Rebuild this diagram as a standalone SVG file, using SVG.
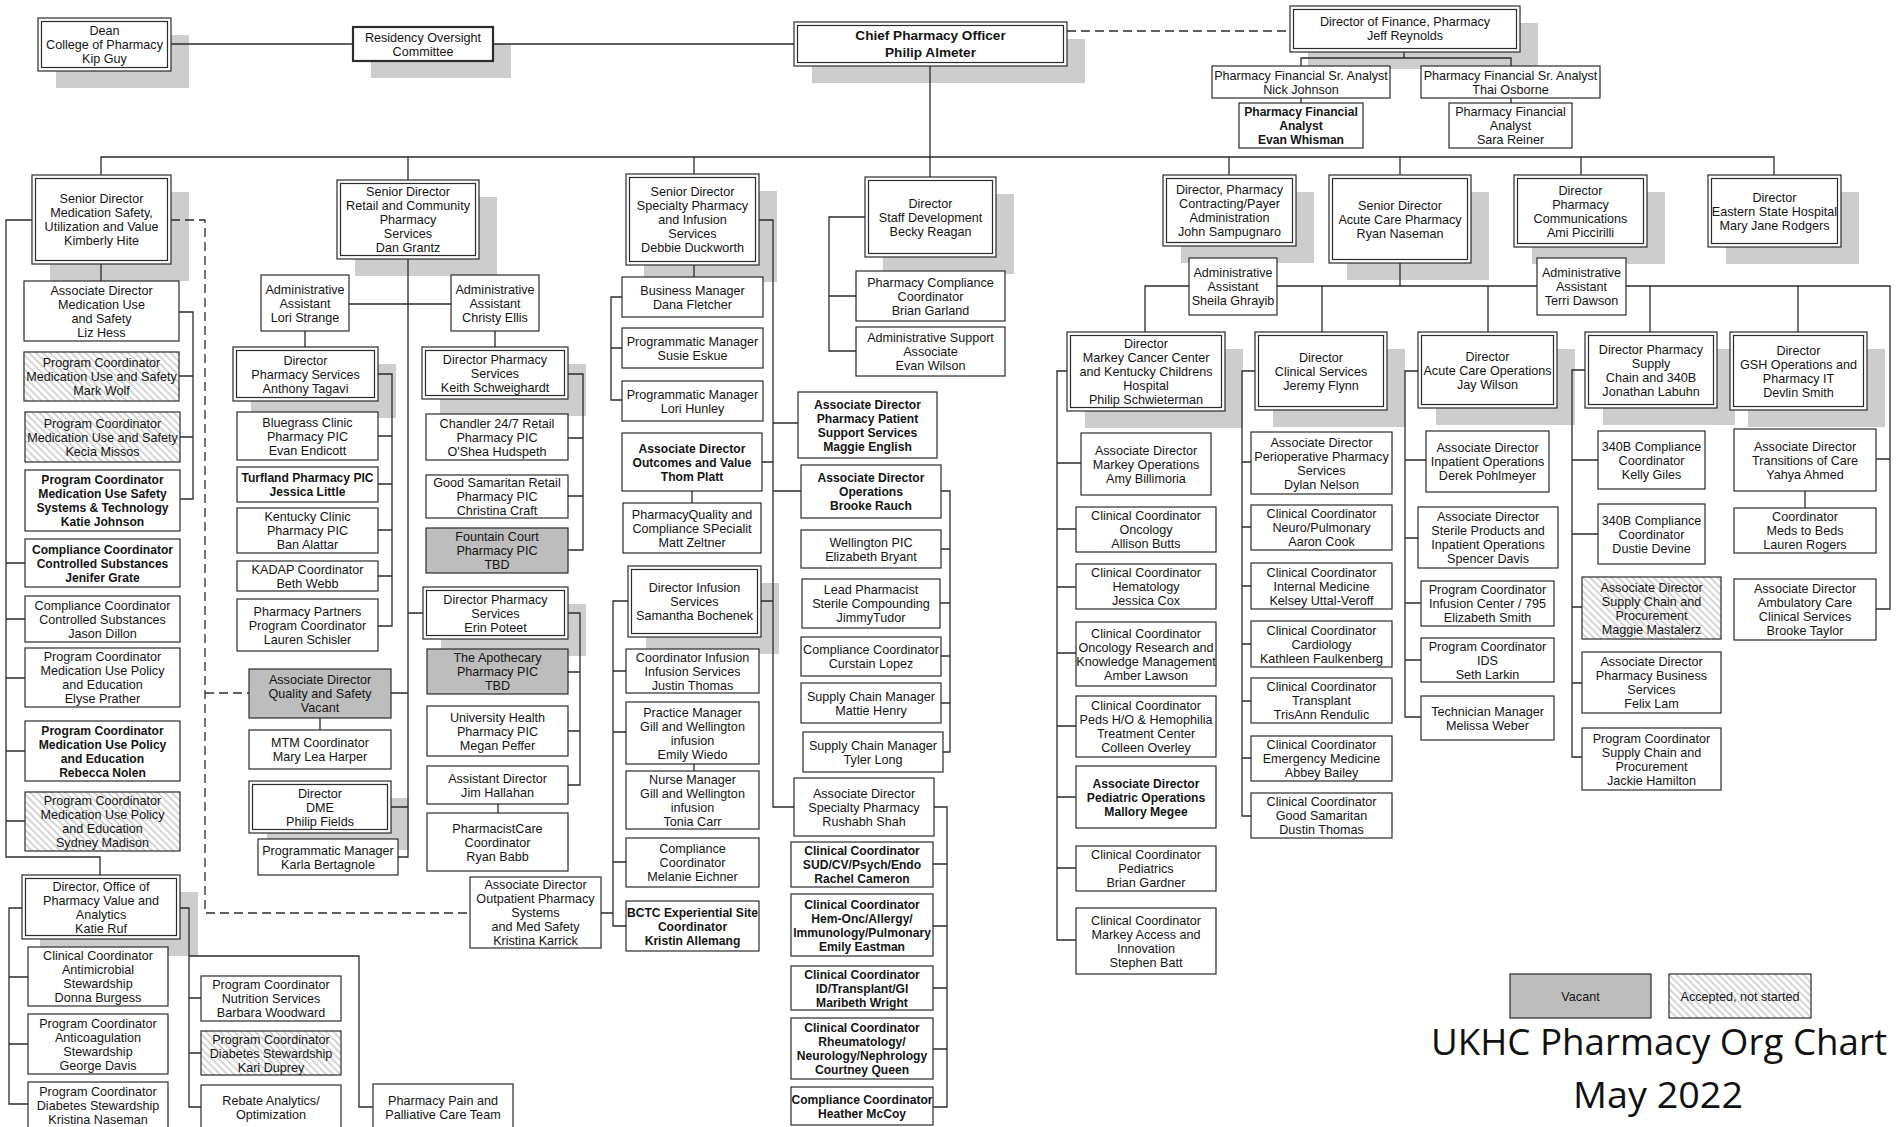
<svg xmlns="http://www.w3.org/2000/svg" width="1898" height="1127" viewBox="0 0 1898 1127">
<style>
.b{fill:#fff;stroke:#2b2b2b;stroke-width:1.2}
.g{fill:#bdbdbd}
.h{fill:url(#hatch)}
.s{fill:#cdcdcd}
.thick{stroke-width:2.2}
.c{fill:none;stroke:#2b2b2b;stroke-width:1.3}
.d{stroke-dasharray:9 5}
text{font-family:"Liberation Sans",Arial,sans-serif;font-size:12.6px;fill:#141414;text-anchor:middle}
.bd{font-weight:bold;font-size:12.1px}
.ti{font-family:"Open Sans","Noto Sans",sans-serif;font-size:36px;fill:#111}
</style>
<defs>
<pattern id="hatch" width="5" height="5" patternUnits="userSpaceOnUse" patternTransform="rotate(-45)">
<rect width="5" height="5" fill="#fff"/>
<line x1="1" y1="0" x2="1" y2="5" stroke="#c4c4c4" stroke-width="1.4"/>
</pattern>
</defs>
<rect width="1898" height="1127" fill="#fff"/>
<g id="shadows" class="s">
<rect x="56" y="35" width="133" height="53"/>
<rect x="371" y="44" width="140" height="34"/>
<rect x="812" y="39" width="273" height="44"/>
<rect x="1308" y="23" width="230" height="46"/>
<rect x="50" y="192" width="139" height="89"/>
<rect x="355" y="197" width="142" height="79"/>
<rect x="644" y="191" width="133" height="91"/>
<rect x="883" y="194" width="131" height="80"/>
<rect x="1181" y="192" width="133" height="71"/>
<rect x="1347" y="192" width="142" height="88"/>
<rect x="1532" y="192" width="133" height="72"/>
<rect x="1726" y="192" width="133" height="72"/>
<rect x="40" y="892" width="158" height="64"/>
<rect x="251" y="364" width="145" height="54"/>
<rect x="267" y="798" width="142" height="52"/>
<rect x="440" y="364" width="146" height="52"/>
<rect x="441" y="604" width="145" height="52"/>
<rect x="646" y="583" width="133" height="71"/>
<rect x="1085" y="349" width="158" height="79"/>
<rect x="1273" y="349" width="132" height="78"/>
<rect x="1436" y="349" width="139" height="76"/>
<rect x="1603" y="349" width="132" height="76"/>
<rect x="1748" y="349" width="137" height="78"/>
</g>
<g id="connectors" class="c">
<path d="M171 44H353M493 44H794"/>
<path class="d" d="M1067 31H1290"/>
<path d="M1404 52V58M1301 66V58H1511V66M1301 98V103M1511 98V103"/>
<path d="M930 66V177M101 175V157H1774V175M408 157V180M694 157V174M1229 157V175M1400 157V175M1581 157V175"/>
<path d="M101 264V281M179 312H193V499H180M179 376H193M180 437H193"/>
<path d="M32 220H6V857H100V875M6 563H25M6 619H25M6 678H25M6 751H25M6 821H25"/>
<path class="d" d="M171 220H205V913H470M205 693H249"/>
<path d="M22 908H9V1104H28M9 977H28M9 1044H28"/>
<path d="M180 908H189V1107H201M189 998H201M189 1053H201M189 956H359V1107H373"/>
<path d="M408 259V857H398M349 304H451M408 613H423M391 693H408M391 807H408M305 331V347M495 331V347"/>
<path d="M378 374H392V626H378M378 436H392M378 484H392M378 530H392M378 576H392M320 718V730"/>
<path d="M568 374H583V550H568M568 438H583M568 496H583M568 613H580V785H568M568 672H580M568 731H580M498 804V813M601 913H613"/>
<path d="M694 265V277M622 297H611V400H622M611 348H622"/>
<path d="M759 220H773V807H794M762 462H773M761 601H773M773 423H798M773 491H801M692 491V503"/>
<path d="M628 601H613V926H626M613 671H626M613 732H626M613 862H626M694 764V771"/>
<path d="M941 491H950V752H943M941 549H950M940 603H950M941 656H950M941 703H950"/>
<path d="M934 807H947V1107H933M933 864H947M933 926H947M933 988H947M933 1049H947"/>
<path d="M865 217H829V351H856M829 296H856"/>
<path d="M1400 263V286M1145 332V286H1890V609H1876M1322 286V332M1488 286V332M1650 286V332M1798 286V332M1890 459H1876M1805 491V508"/>
<path d="M1067 371H1057V940H1076M1057 463H1081M1057 529H1076M1057 587H1076M1057 653H1076M1057 726H1076M1057 797H1076M1057 868H1076"/>
<path d="M1255 371H1242V816H1251M1242 462H1251M1242 527H1251M1242 586H1251M1242 644H1251M1242 701H1251M1242 758H1251"/>
<path d="M1418 371H1405V717H1421M1405 460H1426M1405 538H1418M1405 603H1421M1405 660H1421"/>
<path d="M1585 370H1572V757H1582M1572 460H1598M1572 534H1598M1572 607H1582M1572 683H1582"/>
</g>

<g id="n-dean"><rect class="b" x="38" y="18" width="133" height="53"/><rect class="b" x="41.5" y="21.5" width="126" height="46"/><text x="104.5" y="35"><tspan x="104.5">Dean</tspan><tspan x="104.5" dy="14">College of Pharmacy</tspan><tspan x="104.5" dy="14">Kip Guy</tspan></text></g>
<g id="n-residency"><rect class="b thick" x="353" y="27" width="140" height="34"/><text x="423" y="41.5"><tspan x="423">Residency Oversight</tspan><tspan x="423" dy="14">Committee</tspan></text></g>
<g id="n-chief"><rect class="b" x="794" y="22" width="273" height="44"/><rect class="b" x="797.5" y="25.5" width="266" height="37"/><text style="font-weight:bold;font-size:13.6px" x="930.5" y="40"><tspan x="930.5">Chief Pharmacy Officer</tspan><tspan x="930.5" dy="17">Philip Almeter</tspan></text></g>
<g id="n-finance"><rect class="b" x="1290" y="6" width="230" height="46"/><rect class="b" x="1293.5" y="9.5" width="223" height="39"/><text x="1405" y="26"><tspan x="1405">Director of Finance, Pharmacy</tspan><tspan x="1405" dy="14">Jeff Reynolds</tspan></text></g>
<g id="n-nick"><rect class="b" x="1212" y="66" width="178" height="32"/><text x="1301" y="79.5"><tspan x="1301">Pharmacy Financial Sr. Analyst</tspan><tspan x="1301" dy="14">Nick Johnson</tspan></text></g>
<g id="n-thai"><rect class="b" x="1421" y="66" width="179" height="32"/><text x="1510.5" y="79.5"><tspan x="1510.5">Pharmacy Financial Sr. Analyst</tspan><tspan x="1510.5" dy="14">Thai Osborne</tspan></text></g>
<g id="n-whisman"><rect class="b" x="1239" y="103" width="124" height="45"/><text class="bd" x="1301" y="116"><tspan x="1301">Pharmacy Financial</tspan><tspan x="1301" dy="14">Analyst</tspan><tspan x="1301" dy="14">Evan Whisman</tspan></text></g>
<g id="n-reiner"><rect class="b" x="1449" y="103" width="123" height="45"/><text x="1510.5" y="116"><tspan x="1510.5">Pharmacy Financial</tspan><tspan x="1510.5" dy="14">Analyst</tspan><tspan x="1510.5" dy="14">Sara Reiner</tspan></text></g>

<g id="n-hite"><rect class="b" x="32" y="175" width="139" height="89"/><rect class="b" x="35.5" y="178.5" width="132" height="82"/><text x="101.5" y="203"><tspan x="101.5">Senior Director</tspan><tspan x="101.5" dy="14">Medication Safety,</tspan><tspan x="101.5" dy="14">Utilization and Value</tspan><tspan x="101.5" dy="14">Kimberly Hite</tspan></text></g>
<g id="n-grantz"><rect class="b" x="337" y="180" width="142" height="79"/><rect class="b" x="340.5" y="183.5" width="135" height="72"/><text x="408" y="196"><tspan x="408">Senior Director</tspan><tspan x="408" dy="14">Retail and Community</tspan><tspan x="408" dy="14">Pharmacy</tspan><tspan x="408" dy="14">Services</tspan><tspan x="408" dy="14">Dan Grantz</tspan></text></g>
<g id="n-duckworth"><rect class="b" x="626" y="174" width="133" height="91"/><rect class="b" x="629.5" y="177.5" width="126" height="84"/><text x="692.5" y="196"><tspan x="692.5">Senior Director</tspan><tspan x="692.5" dy="14">Specialty Pharmacy</tspan><tspan x="692.5" dy="14">and Infusion</tspan><tspan x="692.5" dy="14">Services</tspan><tspan x="692.5" dy="14">Debbie Duckworth</tspan></text></g>
<g id="n-reagan"><rect class="b" x="865" y="177" width="131" height="80"/><rect class="b" x="868.5" y="180.5" width="124" height="73"/><text x="930.5" y="207.5"><tspan x="930.5">Director</tspan><tspan x="930.5" dy="14">Staff Development</tspan><tspan x="930.5" dy="14">Becky Reagan</tspan></text></g>
<g id="n-sampugnaro"><rect class="b" x="1163" y="175" width="133" height="71"/><rect class="b" x="1166.5" y="178.5" width="126" height="64"/><text x="1229.5" y="194"><tspan x="1229.5">Director, Pharmacy</tspan><tspan x="1229.5" dy="14">Contracting/Payer</tspan><tspan x="1229.5" dy="14">Administration</tspan><tspan x="1229.5" dy="14">John Sampugnaro</tspan></text></g>
<g id="n-naseman"><rect class="b" x="1329" y="175" width="142" height="88"/><rect class="b" x="1332.5" y="178.5" width="135" height="81"/><text x="1400" y="209.5"><tspan x="1400">Senior Director</tspan><tspan x="1400" dy="14">Acute Care Pharmacy</tspan><tspan x="1400" dy="14">Ryan Naseman</tspan></text></g>
<g id="n-piccirilli"><rect class="b" x="1514" y="175" width="133" height="72"/><rect class="b" x="1517.5" y="178.5" width="126" height="65"/><text x="1580.5" y="194.5"><tspan x="1580.5">Director</tspan><tspan x="1580.5" dy="14">Pharmacy</tspan><tspan x="1580.5" dy="14">Communications</tspan><tspan x="1580.5" dy="14">Ami Piccirilli</tspan></text></g>
<g id="n-rodgers"><rect class="b" x="1708" y="175" width="133" height="72"/><rect class="b" x="1711.5" y="178.5" width="126" height="65"/><text x="1774.5" y="201.5"><tspan x="1774.5">Director</tspan><tspan x="1774.5" dy="14">Eastern State Hospital</tspan><tspan x="1774.5" dy="14">Mary Jane Rodgers</tspan></text></g>

<g id="n-hess"><rect class="b" x="24" y="281" width="155" height="60"/><text x="101.5" y="294.5"><tspan x="101.5">Associate Director</tspan><tspan x="101.5" dy="14">Medication Use</tspan><tspan x="101.5" dy="14">and Safety</tspan><tspan x="101.5" dy="14">Liz Hess</tspan></text></g>
<g id="n-wolf"><rect class="b h" x="24" y="352" width="155" height="49"/><text x="101.5" y="367"><tspan x="101.5">Program Coordinator</tspan><tspan x="101.5" dy="14">Medication Use and Safety</tspan><tspan x="101.5" dy="14">Mark Wolf</tspan></text></g>
<g id="n-missos"><rect class="b h" x="25" y="412" width="155" height="50"/><text x="102.5" y="427.5"><tspan x="102.5">Program Coordinator</tspan><tspan x="102.5" dy="14">Medication Use and Safety</tspan><tspan x="102.5" dy="14">Kecia Missos</tspan></text></g>
<g id="n-kjohnson"><rect class="b" x="25" y="470" width="155" height="61"/><text class="bd" x="102.5" y="484"><tspan x="102.5">Program Coordinator</tspan><tspan x="102.5" dy="14">Medication Use Safety</tspan><tspan x="102.5" dy="14">Systems &amp; Technology</tspan><tspan x="102.5" dy="14">Katie Johnson</tspan></text></g>
<g id="n-grate"><rect class="b" x="25" y="539" width="155" height="48"/><text class="bd" x="102.5" y="553.5"><tspan x="102.5">Compliance Coordinator</tspan><tspan x="102.5" dy="14">Controlled Substances</tspan><tspan x="102.5" dy="14">Jenifer Grate</tspan></text></g>
<g id="n-dillon"><rect class="b" x="25" y="596" width="155" height="46"/><text x="102.5" y="609.5"><tspan x="102.5">Compliance Coordinator</tspan><tspan x="102.5" dy="14">Controlled Substances</tspan><tspan x="102.5" dy="14">Jason Dillon</tspan></text></g>
<g id="n-prather"><rect class="b" x="25" y="648" width="155" height="59"/><text x="102.5" y="661"><tspan x="102.5">Program Coordinator</tspan><tspan x="102.5" dy="14">Medication Use Policy</tspan><tspan x="102.5" dy="14">and Education</tspan><tspan x="102.5" dy="14">Elyse Prather</tspan></text></g>
<g id="n-nolen"><rect class="b" x="25" y="721" width="155" height="60"/><text class="bd" x="102.5" y="734.5"><tspan x="102.5">Program Coordinator</tspan><tspan x="102.5" dy="14">Medication Use Policy</tspan><tspan x="102.5" dy="14">and Education</tspan><tspan x="102.5" dy="14">Rebecca Nolen</tspan></text></g>
<g id="n-madison"><rect class="b h" x="25" y="792" width="155" height="59"/><text x="102.5" y="805"><tspan x="102.5">Program Coordinator</tspan><tspan x="102.5" dy="14">Medication Use Policy</tspan><tspan x="102.5" dy="14">and Education</tspan><tspan x="102.5" dy="14">Sydney Madison</tspan></text></g>
<g id="n-ruf"><rect class="b" x="22" y="875" width="158" height="64"/><rect class="b" x="25.5" y="878.5" width="151" height="57"/><text x="101" y="890.5"><tspan x="101">Director, Office of</tspan><tspan x="101" dy="14">Pharmacy Value and</tspan><tspan x="101" dy="14">Analytics</tspan><tspan x="101" dy="14">Katie Ruf</tspan></text></g>
<g id="n-burgess"><rect class="b" x="28" y="947" width="140" height="59"/><text x="98" y="960"><tspan x="98">Clinical Coordinator</tspan><tspan x="98" dy="14">Antimicrobial</tspan><tspan x="98" dy="14">Stewardship</tspan><tspan x="98" dy="14">Donna Burgess</tspan></text></g>
<g id="n-gdavis"><rect class="b" x="28" y="1014" width="140" height="60"/><text x="98" y="1027.5"><tspan x="98">Program Coordinator</tspan><tspan x="98" dy="14">Anticoagulation</tspan><tspan x="98" dy="14">Stewardship</tspan><tspan x="98" dy="14">George Davis</tspan></text></g>
<g id="n-knaseman"><rect class="b" x="28" y="1082" width="140" height="46"/><text x="98" y="1095.5"><tspan x="98">Program Coordinator</tspan><tspan x="98" dy="14">Diabetes Stewardship</tspan><tspan x="98" dy="14">Kristina Naseman</tspan></text></g>
<g id="n-woodward"><rect class="b" x="201" y="976" width="140" height="45"/><text x="271" y="989"><tspan x="271">Program Coordinator</tspan><tspan x="271" dy="14">Nutrition Services</tspan><tspan x="271" dy="14">Barbara Woodward</tspan></text></g>
<g id="n-duprey"><rect class="b h" x="201" y="1031" width="140" height="44"/><text x="271" y="1043.5"><tspan x="271">Program Coordinator</tspan><tspan x="271" dy="14">Diabetes Stewardship</tspan><tspan x="271" dy="14">Kari Duprey</tspan></text></g>
<g id="n-rebate"><rect class="b" x="201" y="1085" width="140" height="46"/><text x="271" y="1104.5"><tspan x="271">Rebate Analytics/</tspan><tspan x="271" dy="14">Optimization</tspan></text></g>
<g id="n-pain"><rect class="b" x="373" y="1084" width="140" height="47"/><text x="443" y="1104.5"><tspan x="443">Pharmacy Pain and</tspan><tspan x="443" dy="14">Palliative Care Team</tspan></text></g>

<g id="n-strange"><rect class="b" x="261" y="275" width="88" height="56"/><text x="305" y="293.5"><tspan x="305">Administrative</tspan><tspan x="305" dy="14">Assistant</tspan><tspan x="305" dy="14">Lori Strange</tspan></text></g>
<g id="n-ellis"><rect class="b" x="451" y="275" width="88" height="56"/><text x="495" y="293.5"><tspan x="495">Administrative</tspan><tspan x="495" dy="14">Assistant</tspan><tspan x="495" dy="14">Christy Ellis</tspan></text></g>
<g id="n-tagavi"><rect class="b" x="233" y="347" width="145" height="54"/><rect class="b" x="236.5" y="350.5" width="138" height="47"/><text x="305.5" y="364.5"><tspan x="305.5">Director</tspan><tspan x="305.5" dy="14">Pharmacy Services</tspan><tspan x="305.5" dy="14">Anthony Tagavi</tspan></text></g>
<g id="n-endicott"><rect class="b" x="237" y="412" width="141" height="48"/><text x="307.5" y="426.5"><tspan x="307.5">Bluegrass Clinic</tspan><tspan x="307.5" dy="14">Pharmacy PIC</tspan><tspan x="307.5" dy="14">Evan Endicott</tspan></text></g>
<g id="n-little"><rect class="b" x="237" y="467" width="141" height="35"/><text class="bd" x="307.5" y="482"><tspan x="307.5">Turfland Pharmacy PIC</tspan><tspan x="307.5" dy="14">Jessica Little</tspan></text></g>
<g id="n-alattar"><rect class="b" x="237" y="508" width="141" height="45"/><text x="307.5" y="521"><tspan x="307.5">Kentucky Clinic</tspan><tspan x="307.5" dy="14">Pharmacy PIC</tspan><tspan x="307.5" dy="14">Ban Alattar</tspan></text></g>
<g id="n-webb"><rect class="b" x="237" y="561" width="141" height="30"/><text x="307.5" y="573.5"><tspan x="307.5">KADAP Coordinator</tspan><tspan x="307.5" dy="14">Beth Webb</tspan></text></g>
<g id="n-schisler"><rect class="b" x="237" y="599" width="141" height="52"/><text x="307.5" y="615.5"><tspan x="307.5">Pharmacy Partners</tspan><tspan x="307.5" dy="14">Program Coordinator</tspan><tspan x="307.5" dy="14">Lauren Schisler</tspan></text></g>
<g id="n-quality"><rect class="b g" x="249" y="669" width="142" height="49"/><text x="320" y="684"><tspan x="320">Associate Director</tspan><tspan x="320" dy="14">Quality and Safety</tspan><tspan x="320" dy="14">Vacant</tspan></text></g>
<g id="n-harper"><rect class="b" x="249" y="730" width="142" height="39"/><text x="320" y="747"><tspan x="320">MTM Coordinator</tspan><tspan x="320" dy="14">Mary Lea Harper</tspan></text></g>
<g id="n-fields"><rect class="b" x="249" y="781" width="142" height="52"/><rect class="b" x="252.5" y="784.5" width="135" height="45"/><text x="320" y="797.5"><tspan x="320">Director</tspan><tspan x="320" dy="14">DME</tspan><tspan x="320" dy="14">Philip Fields</tspan></text></g>
<g id="n-bertagnole"><rect class="b" x="258" y="839" width="140" height="36"/><text x="328" y="854.5"><tspan x="328">Programmatic Manager</tspan><tspan x="328" dy="14">Karla Bertagnole</tspan></text></g>
<g id="n-schweighardt"><rect class="b" x="422" y="347" width="146" height="52"/><rect class="b" x="425.5" y="350.5" width="139" height="45"/><text x="495" y="363.5"><tspan x="495">Director Pharmacy</tspan><tspan x="495" dy="14">Services</tspan><tspan x="495" dy="14">Keith Schweighardt</tspan></text></g>
<g id="n-hudspeth"><rect class="b" x="426" y="414" width="142" height="46"/><text x="497" y="427.5"><tspan x="497">Chandler 24/7 Retail</tspan><tspan x="497" dy="14">Pharmacy PIC</tspan><tspan x="497" dy="14">O'Shea Hudspeth</tspan></text></g>
<g id="n-craft"><rect class="b" x="426" y="475" width="142" height="43"/><text x="497" y="487"><tspan x="497">Good Samaritan Retail</tspan><tspan x="497" dy="14">Pharmacy PIC</tspan><tspan x="497" dy="14">Christina Craft</tspan></text></g>
<g id="n-fountain"><rect class="b g" x="426" y="528" width="142" height="45"/><text x="497" y="541"><tspan x="497">Fountain Court</tspan><tspan x="497" dy="14">Pharmacy PIC</tspan><tspan x="497" dy="14">TBD</tspan></text></g>
<g id="n-poteet"><rect class="b" x="423" y="587" width="145" height="52"/><rect class="b" x="426.5" y="590.5" width="138" height="45"/><text x="495.5" y="603.5"><tspan x="495.5">Director Pharmacy</tspan><tspan x="495.5" dy="14">Services</tspan><tspan x="495.5" dy="14">Erin Poteet</tspan></text></g>
<g id="n-apothecary"><rect class="b g" x="427" y="649" width="141" height="45"/><text x="497.5" y="662"><tspan x="497.5">The Apothecary</tspan><tspan x="497.5" dy="14">Pharmacy PIC</tspan><tspan x="497.5" dy="14">TBD</tspan></text></g>
<g id="n-peffer"><rect class="b" x="427" y="706" width="141" height="50"/><text x="497.5" y="721.5"><tspan x="497.5">University Health</tspan><tspan x="497.5" dy="14">Pharmacy PIC</tspan><tspan x="497.5" dy="14">Megan Peffer</tspan></text></g>
<g id="n-hallahan"><rect class="b" x="427" y="766" width="141" height="38"/><text x="497.5" y="782.5"><tspan x="497.5">Assistant Director</tspan><tspan x="497.5" dy="14">Jim Hallahan</tspan></text></g>
<g id="n-babb"><rect class="b" x="427" y="813" width="141" height="58"/><text x="497.5" y="832.5"><tspan x="497.5">PharmacistCare</tspan><tspan x="497.5" dy="14">Coordinator</tspan><tspan x="497.5" dy="14">Ryan Babb</tspan></text></g>
<g id="n-karrick"><rect class="b" x="470" y="877" width="131" height="71"/><text x="535.5" y="889"><tspan x="535.5">Associate Director</tspan><tspan x="535.5" dy="14">Outpatient Pharmacy</tspan><tspan x="535.5" dy="14">Systems</tspan><tspan x="535.5" dy="14">and Med Safety</tspan><tspan x="535.5" dy="14">Kristina Karrick</tspan></text></g>

<g id="n-fletcher"><rect class="b" x="622" y="277" width="141" height="40"/><text x="692.5" y="294.5"><tspan x="692.5">Business Manager</tspan><tspan x="692.5" dy="14">Dana Fletcher</tspan></text></g>
<g id="n-eskue"><rect class="b" x="622" y="328" width="141" height="40"/><text x="692.5" y="345.5"><tspan x="692.5">Programmatic Manager</tspan><tspan x="692.5" dy="14">Susie Eskue</tspan></text></g>
<g id="n-hunley"><rect class="b" x="622" y="381" width="141" height="40"/><text x="692.5" y="398.5"><tspan x="692.5">Programmatic Manager</tspan><tspan x="692.5" dy="14">Lori Hunley</tspan></text></g>
<g id="n-platt"><rect class="b" x="622" y="433" width="140" height="58"/><text class="bd" x="692" y="452.5"><tspan x="692">Associate Director</tspan><tspan x="692" dy="14">Outcomes and Value</tspan><tspan x="692" dy="14">Thom Platt</tspan></text></g>
<g id="n-zeltner"><rect class="b" x="623" y="503" width="138" height="50"/><text x="692" y="518.5"><tspan x="692">PharmacyQuality and</tspan><tspan x="692" dy="14">Compliance SPecialit</tspan><tspan x="692" dy="14">Matt Zeltner</tspan></text></g>
<g id="n-bochenek"><rect class="b" x="628" y="566" width="133" height="71"/><rect class="b" x="631.5" y="569.5" width="126" height="64"/><text x="694.5" y="592"><tspan x="694.5">Director Infusion</tspan><tspan x="694.5" dy="14">Services</tspan><tspan x="694.5" dy="14">Samantha Bochenek</tspan></text></g>
<g id="n-jthomas"><rect class="b" x="626" y="649" width="133" height="44"/><text x="692.5" y="661.5"><tspan x="692.5">Coordinator Infusion</tspan><tspan x="692.5" dy="14">Infusion Services</tspan><tspan x="692.5" dy="14">Justin Thomas</tspan></text></g>
<g id="n-wiedo"><rect class="b" x="626" y="702" width="133" height="62"/><text x="692.5" y="716.5"><tspan x="692.5">Practice Manager</tspan><tspan x="692.5" dy="14">Gill and Wellington</tspan><tspan x="692.5" dy="14">infusion</tspan><tspan x="692.5" dy="14">Emily Wiedo</tspan></text></g>
<g id="n-carr"><rect class="b" x="626" y="771" width="133" height="58"/><text x="692.5" y="783.5"><tspan x="692.5">Nurse Manager</tspan><tspan x="692.5" dy="14">Gill and Wellington</tspan><tspan x="692.5" dy="14">infusion</tspan><tspan x="692.5" dy="14">Tonia Carr</tspan></text></g>
<g id="n-eichner"><rect class="b" x="626" y="838" width="133" height="49"/><text x="692.5" y="853"><tspan x="692.5">Compliance</tspan><tspan x="692.5" dy="14">Coordinator</tspan><tspan x="692.5" dy="14">Melanie Eichner</tspan></text></g>
<g id="n-allemang"><rect class="b" x="626" y="901" width="133" height="50"/><text class="bd" x="692.5" y="916.5"><tspan x="692.5">BCTC Experiential Site</tspan><tspan x="692.5" dy="14">Coordinator</tspan><tspan x="692.5" dy="14">Kristin Allemang</tspan></text></g>
<g id="n-english"><rect class="b" x="798" y="392" width="139" height="66"/><text class="bd" x="867.5" y="408.5"><tspan x="867.5">Associate Director</tspan><tspan x="867.5" dy="14">Pharmacy Patient</tspan><tspan x="867.5" dy="14">Support Services</tspan><tspan x="867.5" dy="14">Maggie English</tspan></text></g>
<g id="n-rauch"><rect class="b" x="801" y="465" width="140" height="53"/><text class="bd" x="871" y="482"><tspan x="871">Associate Director</tspan><tspan x="871" dy="14">Operations</tspan><tspan x="871" dy="14">Brooke Rauch</tspan></text></g>
<g id="n-bryant"><rect class="b" x="801" y="530" width="140" height="38"/><text x="871" y="546.5"><tspan x="871">Wellington PIC</tspan><tspan x="871" dy="14">Elizabeth Bryant</tspan></text></g>
<g id="n-tudor"><rect class="b" x="802" y="579" width="138" height="49"/><text x="871" y="594"><tspan x="871">Lead Pharmacist</tspan><tspan x="871" dy="14">Sterile Compounding</tspan><tspan x="871" dy="14">JimmyTudor</tspan></text></g>
<g id="n-lopez"><rect class="b" x="801" y="637" width="140" height="39"/><text x="871" y="654"><tspan x="871">Compliance Coordinator</tspan><tspan x="871" dy="14">Curstain Lopez</tspan></text></g>
<g id="n-henry"><rect class="b" x="801" y="683" width="140" height="40"/><text x="871" y="700.5"><tspan x="871">Supply Chain Manager</tspan><tspan x="871" dy="14">Mattie Henry</tspan></text></g>
<g id="n-long"><rect class="b" x="803" y="732" width="140" height="40"/><text x="873" y="749.5"><tspan x="873">Supply Chain Manager</tspan><tspan x="873" dy="14">Tyler Long</tspan></text></g>
<g id="n-shah"><rect class="b" x="794" y="778" width="140" height="58"/><text x="864" y="797.5"><tspan x="864">Associate Director</tspan><tspan x="864" dy="14">Specialty Pharmacy</tspan><tspan x="864" dy="14">Rushabh Shah</tspan></text></g>
<g id="n-cameron"><rect class="b" x="791" y="842" width="142" height="45"/><text class="bd" x="862" y="855"><tspan x="862">Clinical Coordinator</tspan><tspan x="862" dy="14">SUD/CV/Psych/Endo</tspan><tspan x="862" dy="14">Rachel Cameron</tspan></text></g>
<g id="n-eastman"><rect class="b" x="791" y="894" width="142" height="62"/><text class="bd" x="862" y="908.5"><tspan x="862">Clinical Coordinator</tspan><tspan x="862" dy="14">Hem-Onc/Allergy/</tspan><tspan x="862" dy="14">Immunology/Pulmonary</tspan><tspan x="862" dy="14">Emily Eastman</tspan></text></g>
<g id="n-wright"><rect class="b" x="791" y="966" width="142" height="44"/><text class="bd" x="862" y="978.5"><tspan x="862">Clinical Coordinator</tspan><tspan x="862" dy="14">ID/Transplant/GI</tspan><tspan x="862" dy="14">Maribeth Wright</tspan></text></g>
<g id="n-queen"><rect class="b" x="791" y="1018" width="142" height="61"/><text class="bd" x="862" y="1032"><tspan x="862">Clinical Coordinator</tspan><tspan x="862" dy="14">Rheumatology/</tspan><tspan x="862" dy="14">Neurology/Nephrology</tspan><tspan x="862" dy="14">Courtney Queen</tspan></text></g>
<g id="n-mccoy"><rect class="b" x="791" y="1087" width="142" height="38"/><text class="bd" x="862" y="1103.5"><tspan x="862">Compliance Coordinator</tspan><tspan x="862" dy="14">Heather McCoy</tspan></text></g>

<g id="n-garland"><rect class="b" x="856" y="271" width="149" height="50"/><text x="930.5" y="286.5"><tspan x="930.5">Pharmacy Compliance</tspan><tspan x="930.5" dy="14">Coordinator</tspan><tspan x="930.5" dy="14">Brian Garland</tspan></text></g>
<g id="n-ewilson"><rect class="b" x="856" y="327" width="149" height="49"/><text x="930.5" y="342"><tspan x="930.5">Administrative Support</tspan><tspan x="930.5" dy="14">Associate</tspan><tspan x="930.5" dy="14">Evan Wilson</tspan></text></g>

<g id="n-ghrayib"><rect class="b" x="1189" y="258" width="88" height="57"/><text x="1233" y="277"><tspan x="1233">Administrative</tspan><tspan x="1233" dy="14">Assistant</tspan><tspan x="1233" dy="14">Sheila Ghrayib</tspan></text></g>
<g id="n-dawson"><rect class="b" x="1537" y="258" width="89" height="57"/><text x="1581.5" y="277"><tspan x="1581.5">Administrative</tspan><tspan x="1581.5" dy="14">Assistant</tspan><tspan x="1581.5" dy="14">Terri Dawson</tspan></text></g>
<g id="n-schwieterman"><rect class="b" x="1067" y="332" width="158" height="79"/><rect class="b" x="1070.5" y="335.5" width="151" height="72"/><text x="1146" y="348"><tspan x="1146">Director</tspan><tspan x="1146" dy="14">Markey Cancer Center</tspan><tspan x="1146" dy="14">and Kentucky Childrens</tspan><tspan x="1146" dy="14">Hospital</tspan><tspan x="1146" dy="14">Philip Schwieterman</tspan></text></g>
<g id="n-flynn"><rect class="b" x="1255" y="332" width="132" height="78"/><rect class="b" x="1258.5" y="335.5" width="125" height="71"/><text x="1321" y="361.5"><tspan x="1321">Director</tspan><tspan x="1321" dy="14">Clinical Services</tspan><tspan x="1321" dy="14">Jeremy Flynn</tspan></text></g>
<g id="n-jwilson"><rect class="b" x="1418" y="332" width="139" height="76"/><rect class="b" x="1421.5" y="335.5" width="132" height="69"/><text x="1487.5" y="360.5"><tspan x="1487.5">Director</tspan><tspan x="1487.5" dy="14">Acute Care Operations</tspan><tspan x="1487.5" dy="14">Jay Wilson</tspan></text></g>
<g id="n-labuhn"><rect class="b" x="1585" y="332" width="132" height="76"/><rect class="b" x="1588.5" y="335.5" width="125" height="69"/><text x="1651" y="353.5"><tspan x="1651">Director Pharmacy</tspan><tspan x="1651" dy="14">Supply</tspan><tspan x="1651" dy="14">Chain and 340B</tspan><tspan x="1651" dy="14">Jonathan Labuhn</tspan></text></g>
<g id="n-dsmith"><rect class="b" x="1730" y="332" width="137" height="78"/><rect class="b" x="1733.5" y="335.5" width="130" height="71"/><text x="1798.5" y="354.5"><tspan x="1798.5">Director</tspan><tspan x="1798.5" dy="14">GSH Operations and</tspan><tspan x="1798.5" dy="14">Pharmacy IT</tspan><tspan x="1798.5" dy="14">Devlin Smith</tspan></text></g>

<g id="n-billimoria"><rect class="b" x="1081" y="433" width="130" height="62"/><text x="1146" y="454.5"><tspan x="1146">Associate Director</tspan><tspan x="1146" dy="14">Markey Operations</tspan><tspan x="1146" dy="14">Amy Billimoria</tspan></text></g>
<g id="n-butts"><rect class="b" x="1076" y="507" width="140" height="45"/><text x="1146" y="520"><tspan x="1146">Clinical Coordinator</tspan><tspan x="1146" dy="14">Oncology</tspan><tspan x="1146" dy="14">Allison Butts</tspan></text></g>
<g id="n-cox"><rect class="b" x="1076" y="564" width="140" height="45"/><text x="1146" y="577"><tspan x="1146">Clinical Coordinator</tspan><tspan x="1146" dy="14">Hematology</tspan><tspan x="1146" dy="14">Jessica Cox</tspan></text></g>
<g id="n-lawson"><rect class="b" x="1076" y="622" width="140" height="64"/><text x="1146" y="637.5"><tspan x="1146">Clinical Coordinator</tspan><tspan x="1146" dy="14">Oncology Research and</tspan><tspan x="1146" dy="14">Knowledge Management</tspan><tspan x="1146" dy="14">Amber Lawson</tspan></text></g>
<g id="n-overley"><rect class="b" x="1076" y="696" width="140" height="61"/><text x="1146" y="710"><tspan x="1146">Clinical Coordinator</tspan><tspan x="1146" dy="14">Peds H/O &amp; Hemophilia</tspan><tspan x="1146" dy="14">Treatment Center</tspan><tspan x="1146" dy="14">Colleen Overley</tspan></text></g>
<g id="n-megee"><rect class="b" x="1076" y="766" width="140" height="62"/><text class="bd" x="1146" y="787.5"><tspan x="1146">Associate Director</tspan><tspan x="1146" dy="14">Pediatric Operations</tspan><tspan x="1146" dy="14">Mallory Megee</tspan></text></g>
<g id="n-gardner"><rect class="b" x="1076" y="846" width="140" height="45"/><text x="1146" y="859"><tspan x="1146">Clinical Coordinator</tspan><tspan x="1146" dy="14">Pediatrics</tspan><tspan x="1146" dy="14">Brian Gardner</tspan></text></g>
<g id="n-batt"><rect class="b" x="1076" y="908" width="140" height="66"/><text x="1146" y="924.5"><tspan x="1146">Clinical Coordinator</tspan><tspan x="1146" dy="14">Markey Access and</tspan><tspan x="1146" dy="14">Innovation</tspan><tspan x="1146" dy="14">Stephen Batt</tspan></text></g>

<g id="n-nelson"><rect class="b" x="1251" y="432" width="141" height="62"/><text x="1321.5" y="446.5"><tspan x="1321.5">Associate Director</tspan><tspan x="1321.5" dy="14">Perioperative Pharmacy</tspan><tspan x="1321.5" dy="14">Services</tspan><tspan x="1321.5" dy="14">Dylan Nelson</tspan></text></g>
<g id="n-cook"><rect class="b" x="1251" y="505" width="141" height="45"/><text x="1321.5" y="518"><tspan x="1321.5">Clinical Coordinator</tspan><tspan x="1321.5" dy="14">Neuro/Pulmonary</tspan><tspan x="1321.5" dy="14">Aaron Cook</tspan></text></g>
<g id="n-uttal"><rect class="b" x="1251" y="563" width="141" height="46"/><text x="1321.5" y="576.5"><tspan x="1321.5">Clinical Coordinator</tspan><tspan x="1321.5" dy="14">Internal Medicine</tspan><tspan x="1321.5" dy="14">Kelsey Uttal-Veroff</tspan></text></g>
<g id="n-faulkenberg"><rect class="b" x="1251" y="621" width="141" height="46"/><text x="1321.5" y="634.5"><tspan x="1321.5">Clinical Coordinator</tspan><tspan x="1321.5" dy="14">Cardiology</tspan><tspan x="1321.5" dy="14">Kathleen Faulkenberg</tspan></text></g>
<g id="n-rendulic"><rect class="b" x="1251" y="678" width="141" height="45"/><text x="1321.5" y="691"><tspan x="1321.5">Clinical Coordinator</tspan><tspan x="1321.5" dy="14">Transplant</tspan><tspan x="1321.5" dy="14">TrisAnn Rendulic</tspan></text></g>
<g id="n-bailey"><rect class="b" x="1251" y="736" width="141" height="45"/><text x="1321.5" y="749"><tspan x="1321.5">Clinical Coordinator</tspan><tspan x="1321.5" dy="14">Emergency Medicine</tspan><tspan x="1321.5" dy="14">Abbey Bailey</tspan></text></g>
<g id="n-dthomas"><rect class="b" x="1251" y="793" width="141" height="45"/><text x="1321.5" y="806"><tspan x="1321.5">Clinical Coordinator</tspan><tspan x="1321.5" dy="14">Good Samaritan</tspan><tspan x="1321.5" dy="14">Dustin Thomas</tspan></text></g>

<g id="n-pohlmeyer"><rect class="b" x="1426" y="431" width="123" height="61"/><text x="1487.5" y="452"><tspan x="1487.5">Associate Director</tspan><tspan x="1487.5" dy="14">Inpatient Operations</tspan><tspan x="1487.5" dy="14">Derek Pohlmeyer</tspan></text></g>
<g id="n-sdavis"><rect class="b" x="1418" y="507" width="140" height="61"/><text x="1488" y="521"><tspan x="1488">Associate Director</tspan><tspan x="1488" dy="14">Sterile Products and</tspan><tspan x="1488" dy="14">Inpatient Operations</tspan><tspan x="1488" dy="14">Spencer Davis</tspan></text></g>
<g id="n-esmith"><rect class="b" x="1421" y="581" width="133" height="45"/><text x="1487.5" y="594"><tspan x="1487.5">Program Coordinator</tspan><tspan x="1487.5" dy="14">Infusion Center / 795</tspan><tspan x="1487.5" dy="14">Elizabeth Smith</tspan></text></g>
<g id="n-larkin"><rect class="b" x="1421" y="638" width="133" height="44"/><text x="1487.5" y="650.5"><tspan x="1487.5">Program Coordinator</tspan><tspan x="1487.5" dy="14">IDS</tspan><tspan x="1487.5" dy="14">Seth Larkin</tspan></text></g>
<g id="n-weber"><rect class="b" x="1421" y="696" width="133" height="44"/><text x="1487.5" y="715.5"><tspan x="1487.5">Technician Manager</tspan><tspan x="1487.5" dy="14">Melissa Weber</tspan></text></g>

<g id="n-giles"><rect class="b" x="1598" y="431" width="107" height="58"/><text x="1651.5" y="450.5"><tspan x="1651.5">340B Compliance</tspan><tspan x="1651.5" dy="14">Coordinator</tspan><tspan x="1651.5" dy="14">Kelly Giles</tspan></text></g>
<g id="n-devine"><rect class="b" x="1598" y="504" width="107" height="60"/><text x="1651.5" y="524.5"><tspan x="1651.5">340B Compliance</tspan><tspan x="1651.5" dy="14">Coordinator</tspan><tspan x="1651.5" dy="14">Dustie Devine</tspan></text></g>
<g id="n-mastalerz"><rect class="b h" x="1582" y="577" width="139" height="62"/><text x="1651.5" y="591.5"><tspan x="1651.5">Associate Director</tspan><tspan x="1651.5" dy="14">Supply Chain and</tspan><tspan x="1651.5" dy="14">Procurement</tspan><tspan x="1651.5" dy="14">Maggie Mastalerz</tspan></text></g>
<g id="n-lam"><rect class="b" x="1582" y="652" width="139" height="61"/><text x="1651.5" y="666"><tspan x="1651.5">Associate Director</tspan><tspan x="1651.5" dy="14">Pharmacy Business</tspan><tspan x="1651.5" dy="14">Services</tspan><tspan x="1651.5" dy="14">Felix Lam</tspan></text></g>
<g id="n-hamilton"><rect class="b" x="1582" y="728" width="139" height="62"/><text x="1651.5" y="742.5"><tspan x="1651.5">Program Coordinator</tspan><tspan x="1651.5" dy="14">Supply Chain and</tspan><tspan x="1651.5" dy="14">Procurement</tspan><tspan x="1651.5" dy="14">Jackie Hamilton</tspan></text></g>

<g id="n-ahmed"><rect class="b" x="1734" y="429" width="142" height="62"/><text x="1805" y="450.5"><tspan x="1805">Associate Director</tspan><tspan x="1805" dy="14">Transitions of Care</tspan><tspan x="1805" dy="14">Yahya Ahmed</tspan></text></g>
<g id="n-rogers"><rect class="b" x="1734" y="508" width="142" height="45"/><text x="1805" y="521"><tspan x="1805">Coordinator</tspan><tspan x="1805" dy="14">Meds to Beds</tspan><tspan x="1805" dy="14">Lauren Rogers</tspan></text></g>
<g id="n-taylor"><rect class="b" x="1734" y="579" width="142" height="61"/><text x="1805" y="593"><tspan x="1805">Associate Director</tspan><tspan x="1805" dy="14">Ambulatory Care</tspan><tspan x="1805" dy="14">Clinical Services</tspan><tspan x="1805" dy="14">Brooke Taylor</tspan></text></g>

<g id="legend-vacant"><rect class="b g" x="1510" y="974" width="141" height="44"/><text x="1580.5" y="1000.5">Vacant</text></g>
<g id="legend-accepted"><rect class="b h" x="1669" y="974" width="142" height="44"/><text x="1740" y="1000.5">Accepted, not started</text></g>
<g id="title">
<text class="ti" x="1659" y="1055" textLength="456" lengthAdjust="spacingAndGlyphs">UKHC Pharmacy Org Chart</text>
<text class="ti" x="1658" y="1108" textLength="170" lengthAdjust="spacingAndGlyphs">May 2022</text>
</g>
</svg>
